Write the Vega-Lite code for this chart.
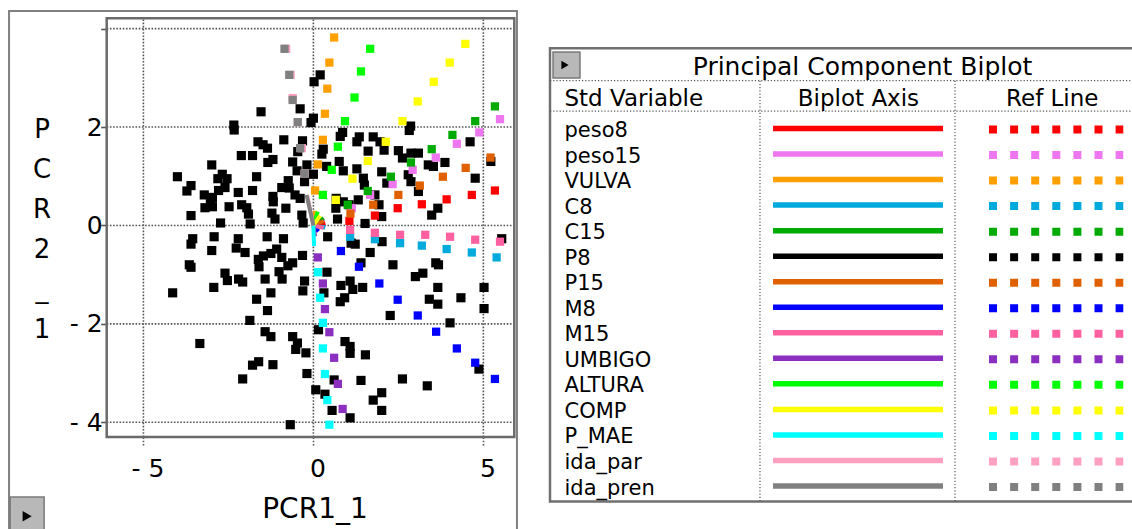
{
  "$schema": "https://vega.github.io/schema/vega-lite/v6.json",
  "width": 1132,
  "height": 529,
  "autosize": "none",
  "padding": 0,
  "background": "white",
  "config": {"view": {"stroke": null}, "font": "DejaVu Sans"},
  "datasets": {
    "obs": [
      {"x":-1.54,"y":2.31},{"x":-2.34,"y":2.04},{"x":-2.33,"y":1.94},{"x":-0.87,"y":1.74},{"x":-0.39,"y":2.37},{"x":-1.63,"y":1.70},{"x":-1.48,"y":1.64},{"x":-1.35,"y":1.57},{"x":-0.32,"y":1.72},{"x":-2.12,"y":1.42},{"x":-1.79,"y":1.42},{"x":-1.34,"y":1.28},{"x":-1.19,"y":1.34},{"x":-0.61,"y":1.29},{"x":-0.46,"y":1.50},{"x":-2.99,"y":1.23},{"x":-4.00,"y":0.99},{"x":-2.68,"y":1.04},{"x":-2.54,"y":0.95},{"x":-2.81,"y":0.95},{"x":-1.67,"y":0.99},{"x":-0.48,"y":1.11},{"x":-0.26,"y":0.89},{"x":-0.19,"y":1.23},{"x":-3.60,"y":0.81},{"x":-3.72,"y":0.70},{"x":-2.60,"y":0.77},{"x":-2.79,"y":0.71},{"x":-2.21,"y":0.67},{"x":-1.79,"y":0.71},{"x":-0.93,"y":0.77},{"x":-0.74,"y":0.91},{"x":-0.71,"y":0.76},{"x":-3.21,"y":0.62},{"x":-2.97,"y":0.57},{"x":-3.03,"y":0.46},{"x":-1.19,"y":0.59},{"x":-1.18,"y":0.48},{"x":-0.54,"y":0.62},{"x":-0.39,"y":0.55},{"x":-2.48,"y":0.38},{"x":-2.11,"y":0.42},{"x":-1.96,"y":0.36},{"x":-1.91,"y":0.23},{"x":-3.19,"y":0.36},{"x":-2.97,"y":0.38},{"x":-0.81,"y":0.35},{"x":-3.60,"y":0.20},{"x":-1.22,"y":0.25},{"x":-1.13,"y":0.13},{"x":-0.34,"y":0.21},{"x":-2.73,"y":0.05},{"x":-1.86,"y":0.03},{"x":-0.30,"y":0.05},
      {"x":-3.55,"y":-0.27},{"x":-3.60,"y":-0.38},{"x":-2.92,"y":-0.23},{"x":-2.21,"y":-0.27},{"x":-2.27,"y":-0.46},{"x":-2.01,"y":-0.55},{"x":-1.36,"y":-0.23},{"x":-0.88,"y":-0.27},{"x":-2.99,"y":-0.51},{"x":-1.62,"y":-0.69},{"x":-1.47,"y":-0.62},{"x":-1.25,"y":-0.57},{"x":-1.08,"y":-0.48},{"x":-0.93,"y":-0.65},{"x":-1.60,"y":-0.84},{"x":-0.32,"y":-0.61},{"x":-3.65,"y":-0.80},{"x":-3.60,"y":-0.85},{"x":-2.60,"y":-0.97},{"x":-2.53,"y":-1.12},{"x":-2.20,"y":-1.09},{"x":-2.08,"y":-1.15},{"x":-1.42,"y":-1.09},{"x":-1.01,"y":-0.94},{"x":-0.92,"y":-1.09},{"x":-0.75,"y":-0.82},{"x":-0.61,"y":-0.76},{"x":-0.26,"y":-1.13},{"x":-0.31,"y":-1.33},{"x":-4.14,"y":-1.37},{"x":-2.93,"y":-1.26},{"x":-1.25,"y":-1.37},{"x":-1.67,"y":-1.50},{"x":-1.35,"y":-1.73},{"x":-1.87,"y":-1.93},{"x":-1.42,"y":-2.16},{"x":-1.25,"y":-2.26},{"x":-0.61,"y":-2.26},{"x":-0.47,"y":-2.39},{"x":-0.52,"y":-2.52},{"x":-0.22,"y":-2.59},{"x":-3.34,"y":-2.40},{"x":-1.61,"y":-2.77},{"x":-1.79,"y":-2.84},{"x":-1.19,"y":-2.83},{"x":-0.19,"y":-3.01},{"x":-2.08,"y":-3.12},{"x":-0.68,"y":-4.05},
      {"x":0.20,"y":3.06},{"x":0.02,"y":2.92},{"x":0.00,"y":2.18},{"x":-0.07,"y":2.09},{"x":2.86,"y":2.02},{"x":2.82,"y":1.93},{"x":0.86,"y":1.89},{"x":0.79,"y":1.81},{"x":1.35,"y":1.80},{"x":1.28,"y":1.70},{"x":1.76,"y":1.80},{"x":1.96,"y":1.70},{"x":0.29,"y":1.55},{"x":0.25,"y":1.45},{"x":1.61,"y":1.51},{"x":2.08,"y":1.53},{"x":2.50,"y":1.52},{"x":2.87,"y":1.47},{"x":3.09,"y":1.47},{"x":2.62,"y":1.37},{"x":4.61,"y":1.70},{"x":3.87,"y":1.28},{"x":3.38,"y":1.23},{"x":3.53,"y":1.20},{"x":0.76,"y":1.30},{"x":0.88,"y":1.11},{"x":1.28,"y":1.15},{"x":1.47,"y":0.96},{"x":2.01,"y":1.09},{"x":0.00,"y":1.04},{"x":1.50,"y":0.82},{"x":2.16,"y":0.86},{"x":2.79,"y":1.03},{"x":2.87,"y":0.89},{"x":4.76,"y":0.96},{"x":0.39,"y":1.20},{"x":1.32,"y":0.52},{"x":1.81,"y":0.62},{"x":0.66,"y":0.35},{"x":1.93,"y":0.42},{"x":3.09,"y":0.69},{"x":3.66,"y":0.35},{"x":3.48,"y":0.21},{"x":0.71,"y":0.13},{"x":2.01,"y":0.18},{"x":1.52,"y":0.04},{"x":5.22,"y":1.30},{"x":0.88,"y":0.48},{"x":0.67,"y":0.55},{"x":1.05,"y":0.42},
      {"x":0.42,"y":-0.23},{"x":1.11,"y":-0.36},{"x":1.23,"y":-0.38},{"x":2.02,"y":-0.33},{"x":1.67,"y":-0.55},{"x":1.40,"y":-0.76},{"x":2.34,"y":-0.80},{"x":3.60,"y":-0.76},{"x":3.68,"y":-0.80},{"x":5.54,"y":-0.27},{"x":0.40,"y":-0.95},{"x":1.08,"y":-1.13},{"x":0.81,"y":-1.22},{"x":1.16,"y":-1.30},{"x":0.92,"y":-1.47},{"x":0.79,"y":-1.55},{"x":1.45,"y":-1.26},{"x":3.00,"y":-1.04},{"x":3.22,"y":-0.97},{"x":3.66,"y":-1.26},{"x":5.02,"y":-1.26},{"x":4.34,"y":-1.47},{"x":3.41,"y":-1.50},{"x":3.66,"y":-1.60},{"x":5.02,"y":-1.69},{"x":0.31,"y":-1.37},{"x":2.26,"y":-1.83},{"x":4.02,"y":-1.98},{"x":0.15,"y":-2.12},{"x":0.93,"y":-2.36},{"x":1.08,"y":-2.46},{"x":1.08,"y":-2.60},{"x":1.53,"y":-2.63},{"x":4.87,"y":-2.92},{"x":0.61,"y":-3.14},{"x":1.40,"y":-3.15},{"x":2.62,"y":-3.12},{"x":3.35,"y":-3.26},{"x":0.07,"y":-3.34},{"x":0.34,"y":-3.43},{"x":2.01,"y":-3.40},{"x":1.76,"y":-3.55},{"x":0.55,"y":-3.76},{"x":2.01,"y":-3.76},{"x":1.08,"y":-3.91}
    ],
    "bax": [
      {"var":"peso8","x":0.35,"y":0.05},{"var":"peso15","x":0.32,"y":0.13},{"var":"VULVA","x":0.05,"y":0.3},{"var":"C8","x":0.35,"y":-0.04},{"var":"C15","x":0.3,"y":0.15},{"var":"P8","x":0.25,"y":0.08},{"var":"P15","x":0.3,"y":0.09},{"var":"M8","x":0.15,"y":-0.12},{"var":"M15","x":0.3,"y":-0.05},{"var":"UMBIGO","x":0.05,"y":-0.22},{"var":"ALTURA","x":0.13,"y":0.28},{"var":"COMP","x":0.2,"y":0.2},{"var":"P_MAE","x":0.02,"y":-0.42},{"var":"ida_par","x":-0.18,"y":0.6},{"var":"ida_pren","x":-0.2,"y":0.62}
    ],
    "ref": [
      {"var":"peso8","x":1.06,"y":0.09},{"var":"peso8","x":1.81,"y":0.20},{"var":"peso8","x":2.48,"y":0.35},{"var":"peso8","x":3.19,"y":0.43},{"var":"peso8","x":3.92,"y":0.53},{"var":"peso8","x":4.66,"y":0.62},{"var":"peso8","x":5.34,"y":0.71},
      {"var":"peso15","x":1.13,"y":0.35},{"var":"peso15","x":1.67,"y":0.62},{"var":"peso15","x":2.33,"y":0.84},{"var":"peso15","x":2.92,"y":1.13},{"var":"peso15","x":3.60,"y":1.38},{"var":"peso15","x":4.22,"y":1.66},{"var":"peso15","x":4.88,"y":1.89},{"var":"peso15","x":5.49,"y":2.16},
      {"var":"VULVA","x":0.05,"y":0.71},{"var":"VULVA","x":0.13,"y":1.24},{"var":"VULVA","x":0.28,"y":1.74},{"var":"VULVA","x":0.34,"y":2.27},{"var":"VULVA","x":0.41,"y":2.78},{"var":"VULVA","x":0.47,"y":3.31},{"var":"VULVA","x":0.61,"y":3.82},
      {"var":"C8","x":1.08,"y":-0.23},{"var":"C8","x":1.81,"y":-0.28},{"var":"C8","x":2.55,"y":-0.36},{"var":"C8","x":3.19,"y":-0.41},{"var":"C8","x":3.92,"y":-0.48},{"var":"C8","x":4.66,"y":-0.55},{"var":"C8","x":5.39,"y":-0.65},
      {"var":"C15","x":1.01,"y":0.42},{"var":"C15","x":1.60,"y":0.70},{"var":"C15","x":2.28,"y":0.99},{"var":"C15","x":2.87,"y":1.28},{"var":"C15","x":3.48,"y":1.55},{"var":"C15","x":4.09,"y":1.84},{"var":"C15","x":4.76,"y":2.12},{"var":"C15","x":5.34,"y":2.42},
      {"var":"P15","x":1.09,"y":0.24},{"var":"P15","x":1.76,"y":0.42},{"var":"P15","x":2.50,"y":0.62},{"var":"P15","x":3.13,"y":0.81},{"var":"P15","x":3.81,"y":0.99},{"var":"P15","x":4.48,"y":1.17},{"var":"P15","x":5.21,"y":1.38},
      {"var":"M8","x":0.81,"y":-0.52},{"var":"M8","x":1.34,"y":-0.84},{"var":"M8","x":1.94,"y":-1.18},{"var":"M8","x":2.48,"y":-1.51},{"var":"M8","x":3.07,"y":-1.83},{"var":"M8","x":3.61,"y":-2.16},{"var":"M8","x":4.22,"y":-2.50},{"var":"M8","x":4.76,"y":-2.79},{"var":"M8","x":5.34,"y":-3.12},
      {"var":"M15","x":1.08,"y":-0.09},{"var":"M15","x":1.81,"y":-0.15},{"var":"M15","x":2.55,"y":-0.19},{"var":"M15","x":3.29,"y":-0.19},{"var":"M15","x":4.02,"y":-0.23},{"var":"M15","x":4.76,"y":-0.29},{"var":"M15","x":5.49,"y":-0.33},
      {"var":"UMBIGO","x":0.13,"y":-0.65},{"var":"UMBIGO","x":0.28,"y":-1.18},{"var":"UMBIGO","x":0.34,"y":-1.70},{"var":"UMBIGO","x":0.47,"y":-2.17},{"var":"UMBIGO","x":0.61,"y":-2.69},{"var":"UMBIGO","x":0.72,"y":-3.22},{"var":"UMBIGO","x":0.86,"y":-3.73},
      {"var":"ALTURA","x":0.28,"y":0.62},{"var":"ALTURA","x":0.54,"y":1.13},{"var":"ALTURA","x":0.72,"y":1.60},{"var":"ALTURA","x":0.93,"y":2.12},{"var":"ALTURA","x":1.21,"y":2.60},{"var":"ALTURA","x":1.40,"y":3.13},{"var":"ALTURA","x":1.67,"y":3.59},
      {"var":"COMP","x":0.66,"y":0.52},{"var":"COMP","x":1.15,"y":0.95},{"var":"COMP","x":1.60,"y":1.31},{"var":"COMP","x":2.13,"y":1.70},{"var":"COMP","x":2.62,"y":2.12},{"var":"COMP","x":3.07,"y":2.52},{"var":"COMP","x":3.54,"y":2.92},{"var":"COMP","x":4.01,"y":3.31},{"var":"COMP","x":4.47,"y":3.69},
      {"var":"P_MAE","x":0.13,"y":-0.95},{"var":"P_MAE","x":0.20,"y":-1.47},{"var":"P_MAE","x":0.28,"y":-1.98},{"var":"P_MAE","x":0.28,"y":-2.50},{"var":"P_MAE","x":0.34,"y":-3.02},{"var":"P_MAE","x":0.41,"y":-3.55},{"var":"P_MAE","x":0.47,"y":-4.05},
      {"var":"ida_par","x":-0.80,"y":3.59},{"var":"ida_par","x":-0.67,"y":3.06},{"var":"ida_par","x":-0.61,"y":2.59},{"var":"ida_par","x":-0.46,"y":2.10},{"var":"ida_par","x":-0.34,"y":1.57},{"var":"ida_par","x":-0.26,"y":1.05},
      {"var":"ida_pren","x":-0.85,"y":3.59},{"var":"ida_pren","x":-0.71,"y":3.06},{"var":"ida_pren","x":-0.61,"y":2.55},{"var":"ida_pren","x":-0.46,"y":2.10},{"var":"ida_pren","x":-0.39,"y":1.57},{"var":"ida_pren","x":-0.26,"y":1.05}
    ],
    "vars": [
      {"var":"peso8","order":1},{"var":"peso15","order":2},{"var":"VULVA","order":3},{"var":"C8","order":4},{"var":"C15","order":5},{"var":"P8","order":6},{"var":"P15","order":7},{"var":"M8","order":8},{"var":"M15","order":9},{"var":"UMBIGO","order":10},{"var":"ALTURA","order":11},{"var":"COMP","order":12},{"var":"P_MAE","order":13},{"var":"ida_par","order":14},{"var":"ida_pren","order":15}
    ]
  },
  "layer": [
    {
      "data": {"values": [{}]},
      "mark": {"type": "rect", "fill": "white", "fillOpacity": 0, "stroke": "#808080", "strokeWidth": 2},
      "encoding": {
        "x": {"datum": -8.953, "type": "quantitative", "scale": {"domain": [-6.08, 5.91], "range": [106.7, 514.3], "nice": false, "zero": false}, "axis": null},
        "x2": {"datum": 5.988},
        "y": {"datum": 4.358, "type": "quantitative", "scale": {"domain": [-4.3, 4.21], "range": [437, 18.3], "nice": false, "zero": false}, "axis": null},
        "y2": {"datum": -7}
      }
    },
    {
      "data": {"values": [{"gx": -5}, {"gx": 0}, {"gx": 5}]},
      "mark": {"type": "rule", "stroke": "#555555", "strokeWidth": 1.6, "strokeDash": [1.6, 1.6]},
      "encoding": {
        "x": {"field": "gx", "type": "quantitative", "scale": {"domain": [-6.08, 5.91], "range": [106.7, 514.3], "nice": false, "zero": false}, "axis": null},
        "y": {"datum": -4.3, "type": "quantitative", "scale": {"domain": [-4.3, 4.21], "range": [437, 18.3], "nice": false, "zero": false}, "axis": null},
        "y2": {"datum": 4.21}
      }
    },
    {
      "data": {"values": [{"gy": -4}, {"gy": -2}, {"gy": 0}, {"gy": 2}, {"gy": 4}]},
      "mark": {"type": "rule", "stroke": "#555555", "strokeWidth": 1.6, "strokeDash": [1.6, 1.6]},
      "encoding": {
        "y": {"field": "gy", "type": "quantitative", "scale": {"domain": [-4.3, 4.21], "range": [437, 18.3], "nice": false, "zero": false}, "axis": null},
        "x": {"datum": -6.08, "type": "quantitative", "scale": {"domain": [-6.08, 5.91], "range": [106.7, 514.3], "nice": false, "zero": false}, "axis": null},
        "x2": {"datum": 5.91}
      }
    },
    {
      "data": {"name": "obs"},
      "mark": {"type": "square", "size": 84, "color": "black", "opacity": 1},
      "encoding": {
        "x": {"field": "x", "type": "quantitative",
          "scale": {"domain": [-6.08, 5.91], "range": [106.7, 514.3], "nice": false, "zero": false},
          "axis": {"values": [-5, 0, 5], "orient": "bottom", "offset": -92, "domain": false, "grid": false,
            "tickSize": 8, "tickColor": "#555555", "tickWidth": 1.6, "tickDash": [1.6, 1.6],
            "labelFont": "DejaVu Sans", "labelFontSize": 25, "labelColor": "black", "labelPadding": 11.5, "labelOffset": 4,
            "labelFlush": false, "labelOverlap": false, "labelBound": false,
            "labelExpr": "datum.value < 0 ? '- ' + abs(datum.value) : datum.label",
            "title": "PCR1_1", "titleFont": "DejaVu Sans", "titleFontSize": 28, "titleFontWeight": "normal", "titleColor": "black",
            "titleX": 314.5, "titleY": 80, "titleAlign": "center", "titleBaseline": "alphabetic"}},
        "y": {"field": "y", "type": "quantitative",
          "scale": {"domain": [-4.3, 4.21], "range": [437, 18.3], "nice": false, "zero": false},
          "axis": {"values": [-4, -2, 0, 2, 4], "orient": "left", "offset": -106.7, "domain": false, "grid": false,
            "tickSize": 6, "tickColor": "#555555", "tickWidth": 1.6,
            "labelFont": "DejaVu Sans", "labelFontSize": 25, "labelColor": "black", "labelPadding": -1.5,
            "labelFlush": false, "labelOverlap": false, "labelBound": false,
            "labelExpr": "datum.value == 4 ? '' : (datum.value < 0 ? '- ' + abs(datum.value) : datum.label)",
            "title": ["P", "C", "R", "2", "_", "1"], "titleFont": "DejaVu Sans", "titleFontSize": 26, "titleFontWeight": "normal", "titleColor": "black",
            "titleAngle": 0, "titleLineHeight": 40, "titleX": -65.2, "titleY": 137, "titleAlign": "center", "titleBaseline": "alphabetic"}}
      }
    },
    {
      "data": {"name": "bax"},
      "mark": {"type": "rule", "strokeWidth": 4},
      "encoding": {
        "x": {"field": "x", "type": "quantitative", "scale": {"domain": [-6.08, 5.91], "range": [106.7, 514.3], "nice": false, "zero": false}, "axis": null},
        "y": {"field": "y", "type": "quantitative", "scale": {"domain": [-4.3, 4.21], "range": [437, 18.3], "nice": false, "zero": false}, "axis": null},
        "x2": {"datum": 0},
        "y2": {"datum": 0},
        "color": {"field": "var", "type": "nominal", "legend": null,
          "scale": {"domain": ["peso8","peso15","VULVA","C8","C15","P8","P15","M8","M15","UMBIGO","ALTURA","COMP","P_MAE","ida_par","ida_pren"],
                    "range": ["#ff0000","#ee76ee","#ffa000","#00aadd","#00aa00","#000000","#e06000","#0000ff","#ff60a0","#8b2fc0","#00ff00","#ffff00","#00ffff","#ffa0c0","#808080"]}}
      }
    },
    {
      "data": {"name": "ref"},
      "mark": {"type": "square", "size": 68, "opacity": 1},
      "encoding": {
        "x": {"field": "x", "type": "quantitative", "scale": {"domain": [-6.08, 5.91], "range": [106.7, 514.3], "nice": false, "zero": false}, "axis": null},
        "y": {"field": "y", "type": "quantitative", "scale": {"domain": [-4.3, 4.21], "range": [437, 18.3], "nice": false, "zero": false}, "axis": null},
        "color": {"field": "var", "type": "nominal", "legend": null,
          "scale": {"domain": ["peso8","peso15","VULVA","C8","C15","P8","P15","M8","M15","UMBIGO","ALTURA","COMP","P_MAE","ida_par","ida_pren"],
                    "range": ["#ff0000","#ee76ee","#ffa000","#00aadd","#00aa00","#000000","#e06000","#0000ff","#ff60a0","#8b2fc0","#00ff00","#ffff00","#00ffff","#ffa0c0","#808080"]}}
      }
    },
    {
      "data": {"values": [{}]},
      "mark": {"type": "rect", "fillOpacity": 0, "fill": "white", "stroke": "#6a6a6a", "strokeWidth": 2.5},
      "encoding": {
        "x": {"datum": -6.08, "type": "quantitative", "scale": {"domain": [-6.08, 5.91], "range": [106.7, 514.3], "nice": false, "zero": false}, "axis": null},
        "x2": {"datum": 5.91},
        "y": {"datum": -4.3, "type": "quantitative", "scale": {"domain": [-4.3, 4.21], "range": [437, 18.3], "nice": false, "zero": false}, "axis": null},
        "y2": {"datum": 4.21}
      }
    },
    {
      "data": {"values": [{}]},
      "mark": {"type": "rect", "fill": "#b8b8b8", "stroke": "#7a7a7a", "strokeWidth": 1.5},
      "encoding": {
        "x": {"datum": -8.92, "type": "quantitative", "scale": {"domain": [-6.08, 5.91], "range": [106.7, 514.3], "nice": false, "zero": false}, "axis": null},
        "x2": {"datum": -7.92},
        "y": {"datum": -5.52, "type": "quantitative", "scale": {"domain": [-4.3, 4.21], "range": [437, 18.3], "nice": false, "zero": false}, "axis": null},
        "y2": {"datum": -6.3}
      }
    },
    {
      "data": {"values": [{}]},
      "mark": {"type": "point", "shape": "triangle-right", "filled": true, "color": "black", "size": 110, "opacity": 1},
      "encoding": {
        "x": {"datum": -8.42, "type": "quantitative", "scale": {"domain": [-6.08, 5.91], "range": [106.7, 514.3], "nice": false, "zero": false}, "axis": null},
        "y": {"datum": -5.91, "type": "quantitative", "scale": {"domain": [-4.3, 4.21], "range": [437, 18.3], "nice": false, "zero": false}, "axis": null}
      }
    },
    {
      "data": {"values": [{}]},
      "mark": {"type": "rect", "fill": "white", "fillOpacity": 0, "stroke": "#707070", "strokeWidth": 2.5},
      "encoding": {
        "x": {"datum": 0, "type": "quantitative", "scale": {"domain": [0, 100], "range": [550, 1132], "nice": false, "zero": false}, "axis": null},
        "x2": {"datum": 110},
        "y": {"datum": -2.24, "type": "quantitative", "scale": {"domain": [1, 15], "range": [131, 488.5], "nice": false, "zero": false}, "axis": null},
        "y2": {"datum": 15.51}
      }
    },
    {
      "data": {"values": [{"hy": -0.97}, {"hy": 0.22}]},
      "mark": {"type": "rule", "stroke": "#555555", "strokeWidth": 1.2, "strokeDash": [1.2, 2]},
      "encoding": {
        "y": {"field": "hy", "type": "quantitative", "scale": {"domain": [1, 15], "range": [131, 488.5], "nice": false, "zero": false}, "axis": null},
        "x": {"datum": 0, "type": "quantitative", "scale": {"domain": [0, 100], "range": [550, 1132], "nice": false, "zero": false}, "axis": null},
        "x2": {"datum": 110}
      }
    },
    {
      "data": {"values": [{"vx": 36.08}, {"vx": 69.59}]},
      "mark": {"type": "rule", "stroke": "#555555", "strokeWidth": 1.2, "strokeDash": [1.2, 2]},
      "encoding": {
        "x": {"field": "vx", "type": "quantitative", "scale": {"domain": [0, 100], "range": [550, 1132], "nice": false, "zero": false}, "axis": null},
        "y": {"datum": -0.97, "type": "quantitative", "scale": {"domain": [1, 15], "range": [131, 488.5], "nice": false, "zero": false}, "axis": null},
        "y2": {"datum": 15.51}
      }
    },
    {
      "data": {"values": [{}]},
      "mark": {"type": "rect", "fill": "#b8b8b8", "stroke": "#7a7a7a", "strokeWidth": 1.5},
      "encoding": {
        "x": {"datum": 0.52, "type": "quantitative", "scale": {"domain": [0, 100], "range": [550, 1132], "nice": false, "zero": false}, "axis": null},
        "x2": {"datum": 5.15},
        "y": {"datum": -2.093, "type": "quantitative", "scale": {"domain": [1, 15], "range": [131, 488.5], "nice": false, "zero": false}, "axis": null},
        "y2": {"datum": -1.075}
      }
    },
    {
      "data": {"values": [{}]},
      "mark": {"type": "point", "shape": "triangle-right", "filled": true, "color": "black", "size": 70, "opacity": 1},
      "encoding": {
        "x": {"datum": 2.58, "type": "quantitative", "scale": {"domain": [0, 100], "range": [550, 1132], "nice": false, "zero": false}, "axis": null},
        "y": {"datum": -1.584, "type": "quantitative", "scale": {"domain": [1, 15], "range": [131, 488.5], "nice": false, "zero": false}, "axis": null}
      }
    },
    {
      "data": {"values": [{}]},
      "mark": {"type": "text", "text": "Principal Component Biplot", "fontSize": 25, "font": "DejaVu Sans", "color": "black", "align": "center", "baseline": "middle"},
      "encoding": {
        "x": {"datum": 53.7, "type": "quantitative", "scale": {"domain": [0, 100], "range": [550, 1132], "nice": false, "zero": false}, "axis": null},
        "y": {"datum": -1.5, "type": "quantitative", "scale": {"domain": [1, 15], "range": [131, 488.5], "nice": false, "zero": false}, "axis": null}
      }
    },
    {
      "data": {"values": [{}]},
      "mark": {"type": "text", "text": "Std Variable", "fontSize": 23, "font": "DejaVu Sans", "color": "black", "align": "left", "baseline": "middle"},
      "encoding": {
        "x": {"datum": 2.49, "type": "quantitative", "scale": {"domain": [0, 100], "range": [550, 1132], "nice": false, "zero": false}, "axis": null},
        "y": {"datum": -0.25, "type": "quantitative", "scale": {"domain": [1, 15], "range": [131, 488.5], "nice": false, "zero": false}, "axis": null}
      }
    },
    {
      "data": {"values": [{}]},
      "mark": {"type": "text", "text": "Biplot Axis", "fontSize": 23, "font": "DejaVu Sans", "color": "black", "align": "center", "baseline": "middle"},
      "encoding": {
        "x": {"datum": 53.0, "type": "quantitative", "scale": {"domain": [0, 100], "range": [550, 1132], "nice": false, "zero": false}, "axis": null},
        "y": {"datum": -0.25, "type": "quantitative", "scale": {"domain": [1, 15], "range": [131, 488.5], "nice": false, "zero": false}, "axis": null}
      }
    },
    {
      "data": {"values": [{}]},
      "mark": {"type": "text", "text": "Ref Line", "fontSize": 23, "font": "DejaVu Sans", "color": "black", "align": "center", "baseline": "middle"},
      "encoding": {
        "x": {"datum": 86.3, "type": "quantitative", "scale": {"domain": [0, 100], "range": [550, 1132], "nice": false, "zero": false}, "axis": null},
        "y": {"datum": -0.25, "type": "quantitative", "scale": {"domain": [1, 15], "range": [131, 488.5], "nice": false, "zero": false}, "axis": null}
      }
    },
    {
      "data": {"name": "vars"},
      "mark": {"type": "text", "fontSize": 21, "font": "DejaVu Sans", "color": "black", "align": "left", "baseline": "middle"},
      "encoding": {
        "x": {"datum": 2.49, "type": "quantitative", "scale": {"domain": [0, 100], "range": [550, 1132], "nice": false, "zero": false}, "axis": null},
        "y": {"field": "order", "type": "quantitative", "scale": {"domain": [1, 15], "range": [131, 488.5], "nice": false, "zero": false}, "axis": null},
        "text": {"field": "var", "type": "nominal"}
      }
    },
    {
      "data": {"name": "vars"},
      "mark": {"type": "rule", "strokeWidth": 5.5, "yOffset": -2.5},
      "encoding": {
        "x": {"datum": 38.32, "type": "quantitative", "scale": {"domain": [0, 100], "range": [550, 1132], "nice": false, "zero": false}, "axis": null},
        "x2": {"datum": 67.53},
        "y": {"field": "order", "type": "quantitative", "scale": {"domain": [1, 15], "range": [131, 488.5], "nice": false, "zero": false}, "axis": null},
        "color": {"field": "var", "type": "nominal", "legend": null,
          "scale": {"domain": ["peso8","peso15","VULVA","C8","C15","P8","P15","M8","M15","UMBIGO","ALTURA","COMP","P_MAE","ida_par","ida_pren"],
                    "range": ["#ff0000","#ee76ee","#ffa000","#00aadd","#00aa00","#000000","#e06000","#0000ff","#ff60a0","#8b2fc0","#00ff00","#ffff00","#00ffff","#ffa0c0","#808080"]}}
      }
    },
    {
      "data": {"name": "vars"},
      "mark": {"type": "rule", "strokeWidth": 8, "strokeDash": [8, 13.1], "yOffset": -1.5},
      "encoding": {
        "x": {"datum": 75.43, "type": "quantitative", "scale": {"domain": [0, 100], "range": [550, 1132], "nice": false, "zero": false}, "axis": null},
        "x2": {"datum": 98.5},
        "y": {"field": "order", "type": "quantitative", "scale": {"domain": [1, 15], "range": [131, 488.5], "nice": false, "zero": false}, "axis": null},
        "color": {"field": "var", "type": "nominal", "legend": null,
          "scale": {"domain": ["peso8","peso15","VULVA","C8","C15","P8","P15","M8","M15","UMBIGO","ALTURA","COMP","P_MAE","ida_par","ida_pren"],
                    "range": ["#ff0000","#ee76ee","#ffa000","#00aadd","#00aa00","#000000","#e06000","#0000ff","#ff60a0","#8b2fc0","#00ff00","#ffff00","#00ffff","#ffa0c0","#808080"]}}
      }
    }
  ],
  "resolve": {"scale": {"x": "independent", "y": "independent", "color": "independent"}}
}
